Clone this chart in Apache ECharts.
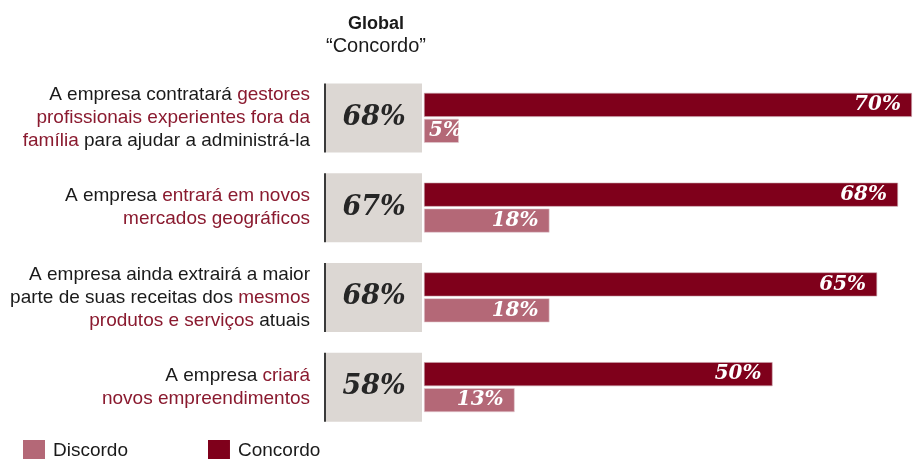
<!DOCTYPE html>
<html>
<head>
<meta charset="utf-8">
<script src="https://cdn.jsdelivr.net/npm/echarts@6/dist/echarts.min.js"></script>
<style>html,body{margin:0;padding:0;background:#fff;}#c{width:921px;height:459px;}</style>
</head>
<body>
<div id="c"></div>
<script>
// Statements (red parts marked with {r|...})
const categories = [
  'A empresa contratará {r|gestores}\n{r|profissionais experientes fora da}\n{r|família} para ajudar a administrá-la',
  'A empresa {r|entrará em novos}\n{r|mercados geográficos}',
  'A empresa ainda extrairá a maior\nparte de suas receitas dos {r|mesmos}\n{r|produtos e serviços} atuais',
  'A empresa {r|criará}\n{r|novos empreendimentos}'
];
const globalConcordo = [68, 67, 68, 58];
const concordo = [70, 68, 65, 50];
const discordo = [5, 18, 18, 13];
const seriesNames = ['Concordo', 'Discordo'];
const headerTitle = 'Global';
const headerSub = '“Concordo”';

const SANS = '"Liberation Sans", Arial, Helvetica, sans-serif';
const SERIF = '"DejaVu Serif", serif';
const C_DARK = '#7f001b';
const C_LIGHT = '#b46877';
const C_GREY = '#dcd7d3';
const C_RED_TEXT = '#8a1a2f';

const chart = echarts.init(document.getElementById('c'));
const barLabel = {
  show: true,
  position: 'insideRight',
  distance: 11,
  color: '#fff',
  fontFamily: SERIF,
  fontStyle: 'italic',
  fontWeight: 'bold',
  fontSize: 20,
  formatter: p => p.value + '%'
};
chart.setOption({
  animation: false,
  title: {
    left: 371, top: 8, textAlign: 'center',
    text: '{b|' + headerTitle + '}\n{n|' + headerSub + '}',
    textStyle: {
      rich: {
        b: {fontFamily: SANS, fontWeight: 'bold', fontSize: 18, color: '#1a1a1a', lineHeight: 22},
        n: {fontFamily: SANS, fontWeight: 'normal', fontSize: 20, color: '#1a1a1a', lineHeight: 22}
      }
    }
  },
  legend: {
    left: 23, top: 440, padding: 0,
    data: ['Discordo', 'Concordo'],
    icon: 'rect', itemWidth: 22, itemHeight: 22, itemGap: 80,
    itemStyle: {borderWidth: 0},
    textStyle: {fontFamily: SANS, fontSize: 19, color: '#1a1a1a', padding: [3, 0, 0, 3]}
  },
  grid: {left: 424, top: 73, right: 0, height: 359},
  xAxis: {type: 'value', min: 0, max: 71.3, show: false},
  yAxis: [
    {
      type: 'category', data: categories, inverse: true, position: 'left', offset: 0,
      axisLine: {show: false}, axisTick: {show: false},
      axisLabel: {
        interval: 0, margin: 114, align: 'right',
        fontFamily: SANS, fontSize: 19, color: '#1a1a1a', lineHeight: 23,
        rich: {r: {fontFamily: SANS, fontSize: 19, color: C_RED_TEXT, lineHeight: 23, align: 'right'}}
      }
    },
    {
      type: 'category', data: categories, inverse: true, position: 'left', offset: 0,
      axisLine: {show: false}, axisTick: {show: false},
      axisLabel: {
        interval: 0, margin: 2,
        formatter: (v, i) => '{ln| }{bx|' + globalConcordo[i] + '%}',
        rich: {
          ln: {width: 2, height: 69, lineHeight: 69, backgroundColor: '#3a3a3a'},
          bx: {width: 96, height: 69, lineHeight: 69, backgroundColor: C_GREY, align: 'center',
               fontFamily: SERIF, fontStyle: 'italic', fontWeight: 'bold', fontSize: 27, color: '#262626'}
        }
      }
    }
  ],
  series: [
    {
      name: seriesNames[0], type: 'bar', yAxisIndex: 0, data: concordo,
      barWidth: 24, barGap: '8%',
      itemStyle: {color: C_DARK, borderColor: '#c9a2ab', borderWidth: 0.6},
      label: barLabel
    },
    {
      name: seriesNames[1], type: 'bar', yAxisIndex: 0,
      data: discordo.map(v => v < 10 ? {value: v, label: {position: 'insideLeft', distance: 5}} : v),
      barWidth: 24,
      itemStyle: {color: C_LIGHT, borderColor: '#e3cdd2', borderWidth: 0.6},
      label: barLabel
    }
  ]
});
</script>
</body>
</html>
